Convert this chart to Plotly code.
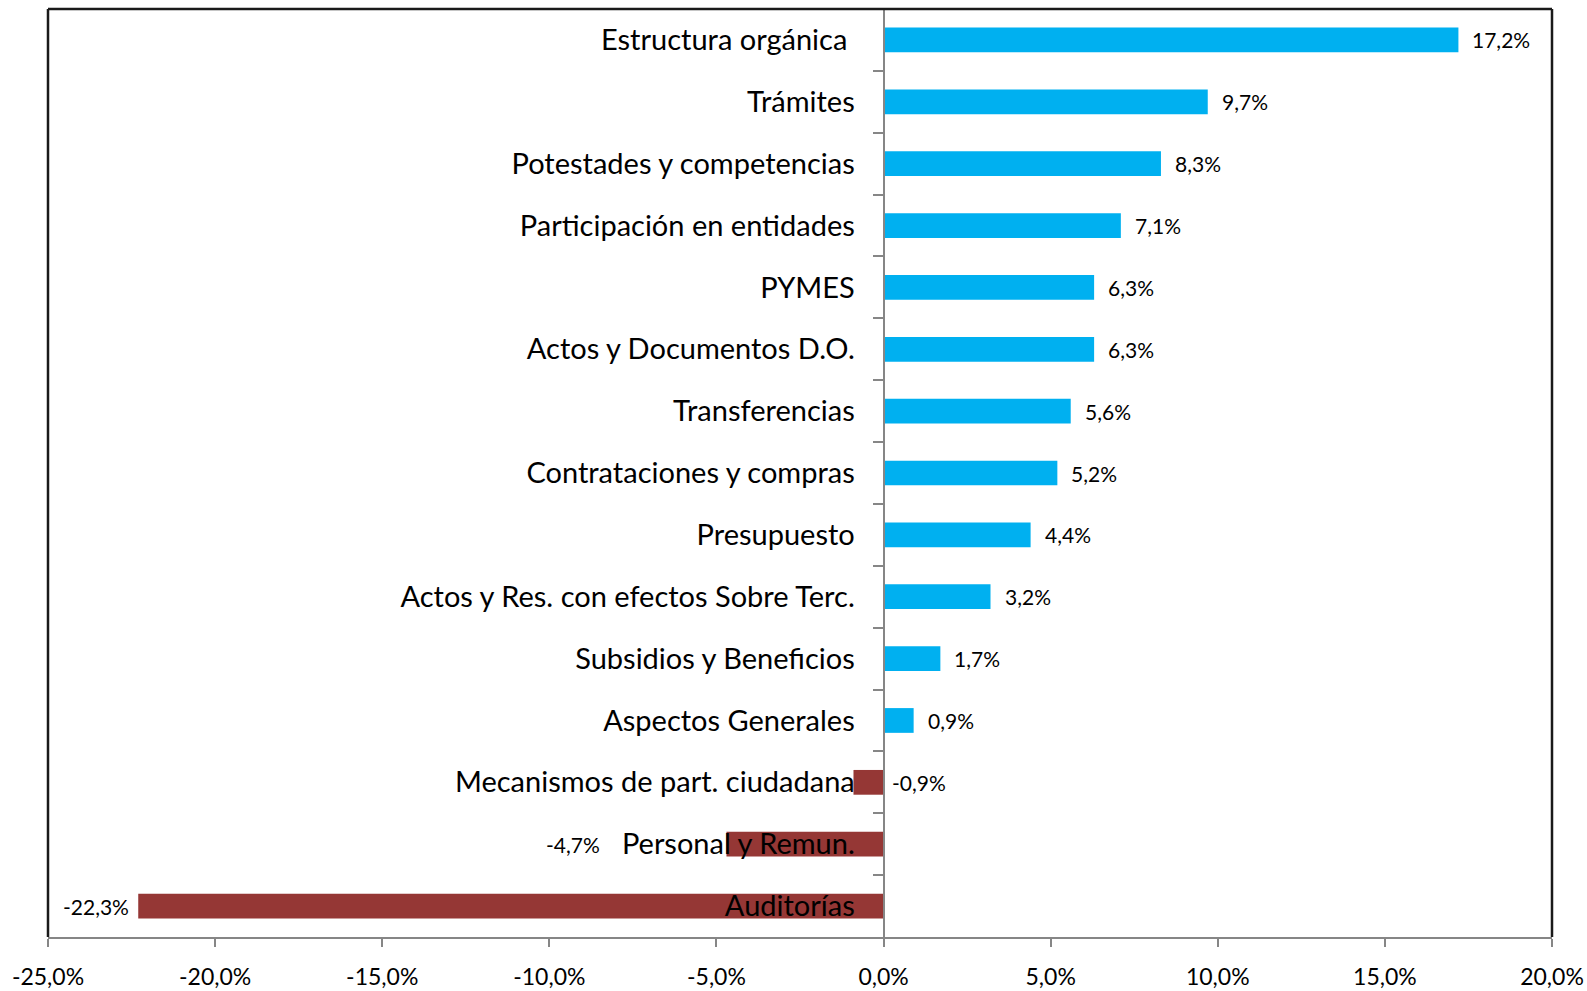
import plotly.graph_objects as go

categories = [
    "Estructura orgánica\u00a0", "Trámites", "Potestades y competencias",
    "Participación en entidades", "PYMES", "Actos y Documentos D.O.",
    "Transferencias", "Contrataciones y compras", "Presupuesto",
    "Actos y Res. con efectos Sobre Terc.", "Subsidios y Beneficios",
    "Aspectos Generales", "Mecanismos de part. ciudadana",
    "Personal y Remun.", "Auditorías",
]
values = [17.2, 9.7, 8.3, 7.1, 6.3, 6.3, 5.6, 5.2, 4.4, 3.2, 1.7, 0.9, -0.9, -4.7, -22.3]
tick_vals = [-25, -20, -15, -10, -5, 0, 5, 10, 15, 20]
tick_labels = ["-25,0%", "-20,0%", "-15,0%", "-10,0%", "-5,0%", "0,0%", "5,0%", "10,0%", "15,0%", "20,0%"]

POS = "#00B0F0"
NEG = "#953735"
FONT = "Lato"
VAL_SIZE = 21

colors = [POS if v >= 0 else NEG for v in values]
fig = go.Figure(go.Bar(
    y=categories, x=values, orientation="h", marker_color=colors,
    marker_line_width=0, width=0.4, hoverinfo="skip",
))

# value labels (Excel-like, some nudged manually as in the original)
label_nudge = {"Mecanismos de part. ciudadana": ("zero", 6), "Personal y Remun.": ("end", -124)}
for c, v in zip(categories, values):
    txt = f"{v:.1f}%".replace(".", ",")
    f = dict(family=FONT, size=VAL_SIZE, color="black")
    if c in label_nudge:
        mode, sh = label_nudge[c]
        if mode == "zero":
            fig.add_annotation(x=0, y=c, text=txt, showarrow=False, xanchor="left", xshift=sh, font=f)
        else:
            fig.add_annotation(x=v, y=c, text=txt, showarrow=False, xanchor="right", xshift=sh, font=f)
    elif v >= 0:
        fig.add_annotation(x=v, y=c, text=txt, showarrow=False, xanchor="left", xshift=12, font=f)
    else:
        fig.add_annotation(x=v, y=c, text=txt, showarrow=False, xanchor="right", xshift=-7, font=f)

GRAY = "#868686"
zero_pos = (0 - (-25)) / 45
fig.update_layout(
    width=1587, height=991,
    margin=dict(l=48, r=35, t=9, b=54),
    paper_bgcolor="white", plot_bgcolor="white",
    showlegend=False,
    xaxis=dict(range=[-25, 20], tickvals=tick_vals, ticktext=tick_labels, automargin=False,
               showgrid=False, zeroline=False, showline=True, linecolor=GRAY, linewidth=2,
               ticks="outside", ticklen=8, tickcolor=GRAY, tickwidth=2,
               tickfont=dict(family=FONT, size=23, color="black"), ticklabelstandoff=10),
    yaxis=dict(categoryorder="array", categoryarray=categories, autorange="reversed",
               anchor="free", position=zero_pos, showgrid=False, zeroline=False, automargin=False,
               showline=True, linecolor=GRAY, linewidth=2,
               ticks="outside", ticklen=10, tickcolor=GRAY, tickwidth=2, tickson="boundaries",
               tickfont=dict(family=FONT, size=29, color="black"), ticklabelstandoff=22),
)
# black frame on top, left, right
for x0, y0, x1, y1 in [(0, 1, 1, 1), (0, 0, 0, 1), (1, 0, 1, 1)]:
    fig.add_shape(type="line", xref="paper", yref="paper", x0=x0, y0=y0, x1=x1, y1=y1,
                  line=dict(color="#1a1a1a", width=2.5))

fig.write_html("out.html", config={"displayModeBar": False},
               post_script="document.body.style.margin='0px';document.body.style.overflow='hidden';")
